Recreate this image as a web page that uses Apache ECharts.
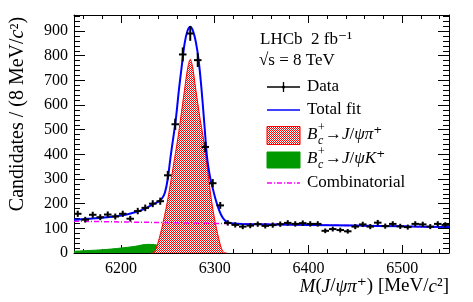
<!DOCTYPE html>
<html><head><meta charset="utf-8">
<script src="https://cdn.jsdelivr.net/npm/echarts@6/dist/echarts.min.js"></script>
<style>html,body{margin:0;padding:0;background:#fff}#c{width:473px;height:302px}</style>
</head><body><div id="c"></div>
<script>
// ---- data ----
const binCenters = [6154,6162,6170,6178,6186,6194,6202,6210,6218,6226,6234,6242,6250,6258,6266,6274,6282,6290,6298,6306,6314,6322,6330,6338,6346,6354,6362,6370,6378,6386,6394,6402,6410,6418,6426,6434,6442,6450,6458,6466,6474,6482,6490,6498,6506,6514,6522,6530,6538,6546];
const counts = [159,135,155,145,156,148,159,139,170,183,200,210,315,522,805,890,782,430,283,193,122,114,107,111,117,110,113,117,122,118,121,118,118,90,97,93,88,107,116,107,123,109,118,108,105,118,116,107,118,114];
const errors = [12.6,11.6,12.4,12.0,12.5,12.2,12.6,11.8,13.0,13.5,14.1,14.5,17.7,22.8,28.4,29.8,28.0,20.7,16.8,13.9,11.0,10.7,10.3,10.5,10.8,10.5,10.6,10.8,11.0,10.9,11.0,10.9,10.9,9.5,9.8,9.6,9.4,10.3,10.8,10.3,11.1,10.4,10.9,10.4,10.2,10.9,10.8,10.3,10.9,10.7];
const binHalfWidth = 4;

const totalMass = [6150,6165,6180,6195,6205,6215,6222,6228,6234,6240,6244,6247,6250,6253,6256,6259,6262,6265,6268,6271,6274,6277,6280,6283,6286,6289,6292,6295,6298,6301,6304,6307,6310,6313,6318,6330,6400,6450,6500,6550];
const totalVal  = [135,139,143,149,155,165,174,184,197,208,222,245,300,390,470,555,665,760,850,900,917,900,855,780,665,525,385,310,262,218,182,154,136,126,121,118,114,111,108,105];

const sigMass = [6232,6234,6237.5,6243.5,6249.5,6255.5,6261,6263.5,6268.3,6271.5,6274,6276.5,6279.5,6284.7,6287.5,6292.3,6296.9,6302,6307.4,6311,6313];
const sigVal  = [0,0,17,98,206,342,470,538,673,755,785,755,673,538,477,342,206,98,17,0,0];

const bckMass = [6150,6165,6180,6200,6215,6228,6236,6240,6245,6250,6255,6259,6263];
const bckVal  = [7,10,13,20,27,35,34,30,23,15,8,3,0];

const combMass = [6150,6550];
const combVal  = [129,105];

const xRange = [6150, 6550];
const yRange = [0, 965];

// ---- build ----
const zip = (a, b) => a.map((v, i) => [v, b[i]]);
const serif = '"Liberation Serif","DejaVu Serif",serif';

const tile = document.createElement('canvas');
tile.width = 2; tile.height = 2;
const tc = tile.getContext('2d');
tc.fillStyle = '#ffffff'; tc.fillRect(0, 0, 2, 2);
tc.fillStyle = '#ff0000'; tc.fillRect(0, 0, 1, 1); tc.fillRect(1, 1, 1, 1);
const hatch = { image: tile, repeat: 'repeat' };

const chart = echarts.init(document.getElementById('c'), null, { renderer: 'canvas' });

const baseX = (pos, labels, minor) => ({
  type: 'value', position: pos, min: xRange[0], max: xRange[1],
  splitNumber: minor ? 20 : 4,
  axisLine: { show: !minor, onZero: false, lineStyle: { color: '#000', width: 1 } },
  axisTick: { show: true, inside: true, length: minor ? 4 : 8, lineStyle: { color: '#000', width: 1 } },
  axisLabel: { show: labels, margin: 8, color: '#000', fontFamily: serif, fontSize: 16, showMinLabel: false, showMaxLabel: false,
    formatter: v => String(v) },
  splitLine: { show: false }
});
const baseY = (pos, labels, minor) => ({
  type: 'value', position: pos, min: yRange[0], max: yRange[1],
  interval: minor ? 20 : 100,
  axisLine: { show: !minor, onZero: false, lineStyle: { color: '#000', width: 1 } },
  axisTick: { show: true, inside: true, length: minor ? 6 : 11, lineStyle: { color: '#000', width: 1 } },
  axisLabel: { show: labels, margin: 6, color: '#000', fontFamily: serif, fontSize: 16, showMaxLabel: false,
    formatter: v => String(v) },
  splitLine: { show: false }
});

const xMain = baseX('bottom', true, false);
xMain.name = '{i|M}({i|J}/{i|ψπ}⁺) [MeV/{i|c}²]';
xMain.nameLocation = 'end';
xMain.nameGap = 0;
xMain.nameTextStyle = { color: '#000', fontFamily: serif, fontSize: 19, align: 'right', verticalAlign: 'top', padding: [24, 0, 0, 0],
  rich: { i: { fontStyle: 'italic', fontFamily: serif, fontSize: 19, color: '#000' } } };

const yMain = baseY('left', true, false);
yMain.name = 'Candidates / (8 MeV/{i|c}²)';
yMain.nameLocation = 'middle';
yMain.nameGap = 46;
yMain.nameTextStyle = { color: '#000', fontFamily: serif, fontSize: 20, padding: [0, 0, 0, 40],
  rich: { i: { fontStyle: 'italic', fontFamily: serif, fontSize: 20, color: '#000' } } };

const fs = '17px ' + serif;
const lg = [];
lg.push({ type: 'text', style: { text: 'LHCb  2 fb⁻¹', x: 260, y: 40, font: fs, fill: '#000', verticalAlign: 'middle' } });
lg.push({ type: 'text', style: { text: '√s = 8 TeV', x: 259, y: 61, font: fs, fill: '#000', verticalAlign: 'middle' } });
// Data
lg.push({ type: 'line', shape: { x1: 267, y1: 87, x2: 300, y2: 87 }, style: { stroke: '#000', lineWidth: 1.3 } });
lg.push({ type: 'line', shape: { x1: 283.5, y1: 82, x2: 283.5, y2: 92 }, style: { stroke: '#000', lineWidth: 1.3 } });
lg.push({ type: 'circle', shape: { cx: 283.5, cy: 87, r: 1.5 }, style: { fill: '#000' } });
lg.push({ type: 'text', style: { text: 'Data', x: 307, y: 87, font: fs, fill: '#000', verticalAlign: 'middle' } });
// Total fit
lg.push({ type: 'line', shape: { x1: 267, y1: 110, x2: 300, y2: 110 }, style: { stroke: '#0000ff', lineWidth: 1.5 } });
lg.push({ type: 'text', style: { text: 'Total fit', x: 307, y: 110, font: fs, fill: '#000', verticalAlign: 'middle' } });
// Bc -> J/psi pi
lg.push({ type: 'rect', shape: { x: 267, y: 126.5, width: 33, height: 18 }, style: { fill: hatch, stroke: '#ff0000', lineWidth: 1 } });
// Bc -> J/psi K
lg.push({ type: 'rect', shape: { x: 267, y: 152, width: 33, height: 16 }, style: { fill: '#009a00', stroke: '#009a00', lineWidth: 1 } });
const bLabel = (y, tail) => {
  lg.push({ type: 'text', style: { text: 'B', x: 307, y: y, font: 'italic ' + fs, fill: '#000', verticalAlign: 'middle' } });
  lg.push({ type: 'text', style: { text: '+', x: 318, y: y - 7, font: '12px ' + serif, fill: '#000', verticalAlign: 'middle' } });
  lg.push({ type: 'text', style: { text: 'c', x: 318, y: y + 6, font: 'italic 12px ' + serif, fill: '#000', verticalAlign: 'middle' } });
  lg.push({ type: 'text', style: { text: '→{i|J}/{i|ψ' + tail + '}', x: 325, y: y, font: fs, fill: '#000', verticalAlign: 'middle',
    rich: { i: { fontStyle: 'italic', fontFamily: serif, fontSize: 17, fill: '#000' } } } });
};
bLabel(135, 'π⁺');
bLabel(159, 'K⁺');
// Combinatorial
lg.push({ type: 'line', shape: { x1: 267, y1: 183, x2: 300, y2: 183 }, style: { stroke: '#ff00ff', lineWidth: 1.5, lineDash: [5, 2, 1, 2] } });
lg.push({ type: 'text', style: { text: 'Combinatorial', x: 307, y: 183, font: fs, fill: '#000', verticalAlign: 'middle' } });

const option = {
  animation: false,
  backgroundColor: '#fff',
  grid: { left: 66, right: 24, top: 15, bottom: 49, containLabel: false },
  xAxis: [xMain, baseX('bottom', false, true), baseX('top', false, false), baseX('top', false, true)],
  yAxis: [yMain, baseY('left', false, true), baseY('right', false, false), baseY('right', false, true)],
  graphic: lg,
  series: [
    { name: 'Bc->J/psiK', type: 'line', data: zip(bckMass, bckVal), smooth: 0.3, symbol: 'none', z: 2,
      lineStyle: { color: '#009a00', width: 1 }, areaStyle: { color: '#009a00', opacity: 1 } },
    { name: 'Bc->J/psipi', type: 'line', data: zip(sigMass, sigVal), smooth: 0.3, symbol: 'none', z: 3,
      lineStyle: { color: '#ff0000', width: 1 }, areaStyle: { color: hatch, opacity: 1 } },
    { name: 'Combinatorial', type: 'line', data: zip(combMass, combVal), symbol: 'none', z: 4,
      lineStyle: { color: '#ff00ff', width: 1.5, type: [5, 2, 1, 2] } },
    { name: 'Total fit', type: 'line', data: zip(totalMass, totalVal), smooth: 0.3, symbol: 'none', z: 5,
      lineStyle: { color: '#0000ff', width: 2 } },
    { name: 'Data', type: 'custom', z: 6,
      data: binCenters.map((m, i) => [m, counts[i], errors[i]]),
      renderItem: (params, api) => {
        const m = api.value(0), v = api.value(1), e = api.value(2);
        const c = api.coord([m, v]);
        const l = api.coord([m - binHalfWidth, v]), r = api.coord([m + binHalfWidth, v]);
        const t = api.coord([m, v + e]), b = api.coord([m, v - e]);
        return { type: 'group', children: [
          { type: 'line', shape: { x1: l[0], y1: c[1], x2: r[0], y2: c[1] }, style: { stroke: '#000', lineWidth: 2 } },
          { type: 'line', shape: { x1: c[0], y1: t[1], x2: c[0], y2: b[1] }, style: { stroke: '#000', lineWidth: 2 } }
        ] };
      } }
  ]
};
chart.setOption(option);
</script></body></html>
